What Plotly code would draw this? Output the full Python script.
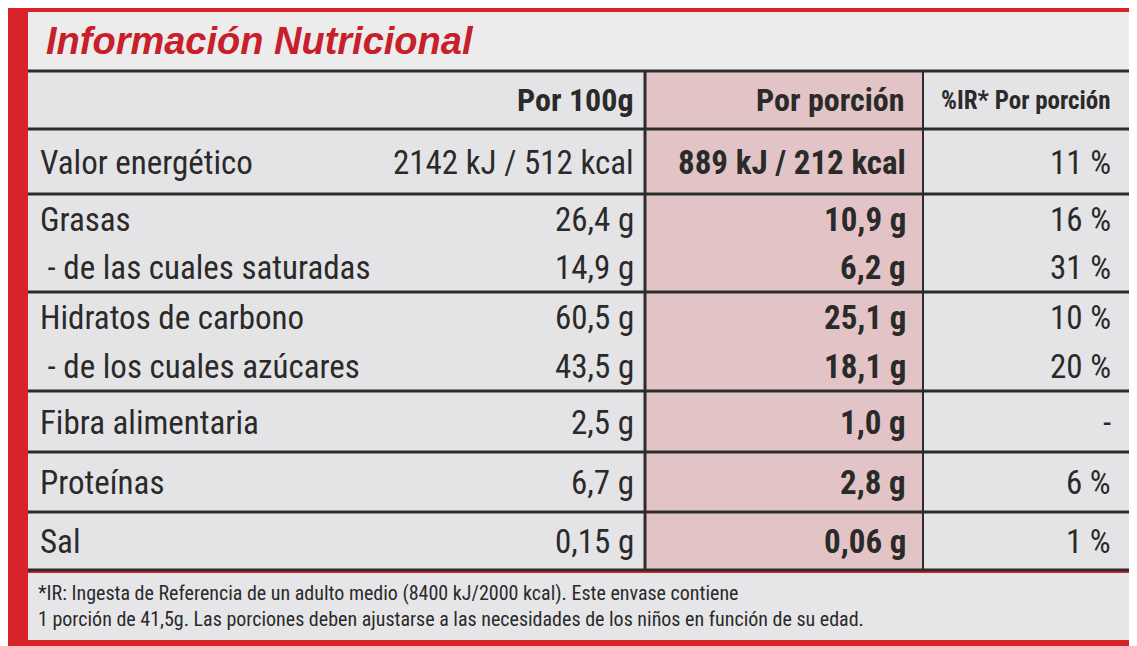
import plotly.graph_objects as go

title = "Información Nutricional"
headers = ["", "Por 100g", "Por porción", "%IR* Por porción"]
labels = [["Valor energético"], ["Grasas", " - de las cuales saturadas"],
          ["Hidratos de carbono", " - de los cuales azúcares"],
          ["Fibra alimentaria"], ["Proteínas"], ["Sal"]]
per100 = [["2142 kJ / 512 kcal"], ["26,4 g", "14,9 g"], ["60,5 g", "43,5 g"], ["2,5 g"], ["6,7 g"], ["0,15 g"]]
perPortion = [["889 kJ / 212 kcal"], ["10,9 g", "6,2 g"], ["25,1 g", "18,1 g"], ["1,0 g"], ["2,8 g"], ["0,06 g"]]
ir = [["11 %"], ["16 %", "31 %"], ["10 %", "20 %"], ["-"], ["6 %"], ["1 %"]]
footnote = ("*IR: Ingesta de Referencia de un adulto medio (8400 kJ/2000 kcal). Este envase contiene<br>"
            "1 porción de 41,5g. Las porciones deben ajustarse a las necesidades de los niños en función de su edad.")

W, H = 1137, 646
row_bounds = [(122, 186), (187, 284), (285, 383), (384, 444), (445, 504), (505, 561)]
FONT = "Liberation Sans Narrow, Roboto Condensed, Roboto"
TXT = "#2a2a2a"

shapes, ann = [], []
def rect(x0, y0, x1, y1, color):
    shapes.append(dict(type="rect", xref="x", yref="y", x0=x0, y0=y0, x1=x1, y1=y1,
                       fillcolor=color, line=dict(width=0), layer="below"))
rect(0, 0, W, H, "#d8232a")
rect(20, 4, 1130, 62, "#ececec")
rect(20, 63, 1130, 562, "#e4e4e6")
rect(638, 63, 915, 562, "#e3c4c6")
rect(20, 565, 1130, 632, "#e6e6e8")
ann.append(dict(x=36, y=33, text="<b><i>" + title + "</i></b>", xanchor="left", showarrow=False,
                font=dict(size=38, color="#c8202a", family="Liberation Sans")))
def line(x0, y0, x1, y1, w=3):
    shapes.append(dict(type="line", xref="x", yref="y", x0=x0, y0=y0, x1=x1, y1=y1,
                       line=dict(color="#2c2c2c", width=w)))
line(20, 63, 1130, 63)
line(20, 121, 1130, 121)
for a, b in row_bounds[1:]:
    line(20, a - 1, 1130, a - 1)
line(20, 562, 1130, 562)
line(637, 63, 637, 562)
line(915, 63, 915, 562, 2)

hy = 92
for x, t, s in [(628, headers[1], 32), (898, headers[2], 32), (1105, headers[3], 25)]:
    ann.append(dict(x=x, y=hy, text="<b>" + t + "</b>", xanchor="right", showarrow=False,
                    font=dict(size=s, color=TXT, family=FONT)))

for i, (a, b) in enumerate(row_bounds):
    n = len(labels[i])
    for j in range(n):
        y = a + (b - a) * (j + 0.5) / n
        ann.append(dict(x=30, y=y, text=labels[i][j], xanchor="left", showarrow=False,
                        font=dict(size=33, color=TXT, family=FONT)))
        ann.append(dict(x=628, y=y, text=per100[i][j], xanchor="right", showarrow=False,
                        font=dict(size=33, color=TXT, family=FONT)))
        ann.append(dict(x=900, y=y, text="<b>" + perPortion[i][j] + "</b>", xanchor="right", showarrow=False,
                        font=dict(size=33, color=TXT, family=FONT)))
        ann.append(dict(x=1105, y=y, text=ir[i][j], xanchor="right", showarrow=False,
                        font=dict(size=33, color=TXT, family=FONT)))

ann.append(dict(x=28, y=598, text=footnote, xanchor="left", align="left", showarrow=False,
                font=dict(size=20, color=TXT, family=FONT)))

fig = go.Figure()
fig.update_layout(width=W, height=H, margin=dict(l=0, r=0, t=0, b=0),
                  xaxis=dict(range=[0, W], visible=False, fixedrange=True),
                  yaxis=dict(range=[H, 0], visible=False, fixedrange=True),
                  plot_bgcolor="#d8232a", paper_bgcolor="#d8232a",
                  shapes=shapes, annotations=ann, showlegend=False)
fig.write_html("out.html")
